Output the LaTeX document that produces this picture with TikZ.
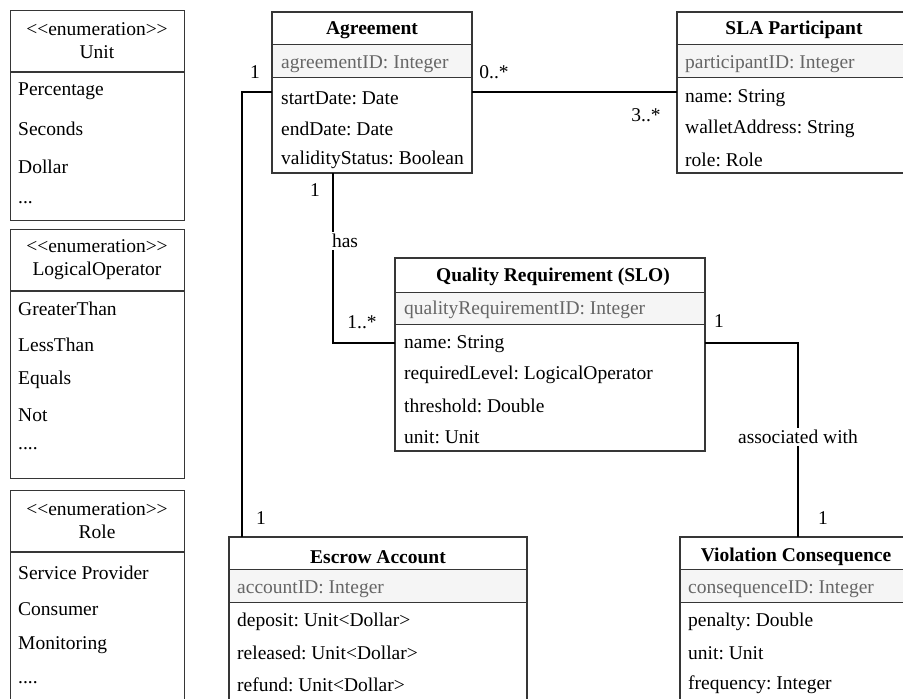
\documentclass[tikz,border=0pt]{standalone}
\usepackage{fontspec}
\setmainfont{Liberation Serif}
\begin{document}
\frenchspacing
\definecolor{boxline}{HTML}{363636}
\definecolor{idfill}{HTML}{F5F5F5}
\definecolor{idtext}{HTML}{666666}
\newcommand{\stereo}[1]{<\kern0pt<#1>\kern0pt>}
\begin{tikzpicture}[x=1pt,y=-1pt,
  font=\fontsize{19.5}{23}\selectfont,
  classbox/.style={draw=boxline, line width=1.1pt, rectangle, inner sep=0pt, anchor=north west},
  sepline/.style={draw=boxline, line width=1.1pt},
  idband/.style={fill=idfill, draw=boxline, line width=0.8pt},
  attr/.style={anchor=west, inner sep=0pt, text=black},
  idattr/.style={attr, text=idtext},
  ctitle/.style={inner sep=0pt, font=\fontsize{19.5}{23}\selectfont\bfseries},
  etitle/.style={inner sep=0pt, align=center},
  mult/.style={inner sep=0pt},
  onlabel/.style={fill=white, inner sep=2pt},
  assoc/.style={line width=2.6pt, black}]

\useasboundingbox (0,0) rectangle (903,699);

% ---------- enumerations ----------
\node[classbox, minimum width=174pt, minimum height=210pt] (unit) at (10,10) {};
\draw[sepline] (10,72) -- (184,72);
\node[etitle] (unith) at (97,41) {\stereo{enumeration}\\Unit};
\node[attr] (u1) at (18,91) {Percentage};
\node[attr] (u2) at (18,129) {Seconds};
\node[attr] (u3) at (18,167) {Dollar};
\node[attr] (u4) at (18,203) {...};

\node[classbox, minimum width=174pt, minimum height=249pt] (logop) at (10,229) {};
\draw[sepline] (10,291) -- (184,291);
\node[etitle] (logoph) at (97,260) {\stereo{enumeration}\\LogicalOperator};
\node[attr] (l1) at (18,309) {GreaterThan};
\node[attr] (l2) at (18,345) {LessThan};
\node[attr] (l3) at (18,380) {Equals};
\node[attr] (l4) at (18,415) {Not};
\node[attr] (l5) at (18,449) {....};

\node[classbox, minimum width=174pt, minimum height=230pt] (role) at (10,490) {};
\draw[sepline] (10,552) -- (184,552);
\node[etitle] (roleh) at (97,521) {\stereo{enumeration}\\Role};
\node[attr] (r1) at (18,573) {Service Provider};
\node[attr] (r2) at (18,609) {Consumer};
\node[attr] (r3) at (18,645) {Monitoring};
\node[attr] (r4) at (18,683) {....};

% ---------- Agreement ----------
\node[classbox, minimum width=200pt, minimum height=161pt] (agr) at (272,12) {};
\draw[idband] (272,44) rectangle (472,77);
\node[ctitle] (agrt) at (372,30) {Agreement};
\node[idattr] (agrid) at (281,64) {agreementID: Integer};
\node[attr] (agr1) at (281,98) {startDate: Date};
\node[attr] (agr2) at (281,129) {endDate: Date};
\node[attr] (agr3) at (281,160) {validityStatus: Boolean};
\draw[classbox] (272,12) rectangle (472,173);

% ---------- SLA Participant ----------
\node[classbox, minimum width=235pt, minimum height=161pt] (sla) at (677,12) {};
\draw[idband] (677,44) rectangle (912,77);
\node[ctitle] (slat) at (794,30) {SLA Participant};
\node[idattr] (slaid) at (685,64) {participantID: Integer};
\node[attr] (sla1) at (685,98) {name: String};
\node[attr] (sla2) at (685,129) {walletAddress: String};
\node[attr] (sla3) at (685,160) {role: Role};
\draw[classbox] (677,12) rectangle (912,173);

% ---------- Quality Requirement ----------
\node[classbox, minimum width=310pt, minimum height=193pt] (qr) at (395,258) {};
\draw[idband] (395,292) rectangle (705,324);
\node[ctitle] (qrt) at (553,277) {Quality Requirement (SLO)};
\node[idattr] (qrid) at (404,310) {qualityRequirementID: Integer};
\node[attr] (qr1) at (404,344) {name: String};
\node[attr] (qr2) at (404,375) {requiredLevel: LogicalOperator};
\node[attr] (qr3) at (404,406) {threshold: Double};
\node[attr] (qr4) at (404,437) {unit: Unit};
\draw[classbox] (395,258) rectangle (705,451);

% ---------- Escrow Account ----------
\node[classbox, minimum width=298pt, minimum height=180pt] (esc) at (229,537) {};
\draw[idband] (229,569) rectangle (527,602);
\node[ctitle] (esct) at (378,557) {Escrow Account};
\node[idattr] (escid) at (237,589) {accountID: Integer};
\node[attr] (esc1) at (237,622) {deposit: Unit<Dollar>};
\node[attr] (esc2) at (237,653) {released: Unit<Dollar>};
\node[attr] (esc3) at (237,685) {refund: Unit<Dollar>};
\draw[classbox] (229,537) rectangle (527,720);

% ---------- Violation Consequence ----------
\node[classbox, minimum width=232pt, minimum height=180pt] (vio) at (680,537) {};
\draw[idband] (680,569) rectangle (912,602);
\node[ctitle] (viot) at (796,557) {Violation Consequence};
\node[idattr] (vioid) at (688,589) {consequenceID: Integer};
\node[attr] (vio1) at (688,622) {penalty: Double};
\node[attr] (vio2) at (688,653) {unit: Unit};
\node[attr] (vio3) at (688,685) {frequency: Integer};
\draw[classbox] (680,537) rectangle (912,720);

% ---------- association ports ----------
\coordinate (agrE) at (472,92);
\coordinate (agrW) at (272,92);
\coordinate (agrS) at (333,173);
\coordinate (slaW) at (677,92);
\coordinate (escN) at (242,537);
\coordinate (qrW) at (395,343);
\coordinate (qrE) at (705,343);
\coordinate (vioN) at (798,537);

% ---------- associations ----------
\draw[assoc] (agrE) -- (slaW);
\draw[assoc] (agrW) -| (escN);
\draw[assoc] (agrS) |- (qrW);
\draw[assoc] (qrE) -| (vioN);

% ---------- multiplicities and labels ----------
\node[mult] (m1) at (494,72) {0..*};
\node[mult] (m2) at (646,115) {3..*};
\node[mult] (m3) at (255,72) {1};
\node[mult] (m4) at (261,518) {1};
\node[mult] (m5) at (315,190) {1};
\node[onlabel] (lhas) at (345,241) {has};
\node[mult] (m6) at (362,322) {1..*};
\node[mult] (m7) at (719,321) {1};
\node[onlabel] (lassoc) at (798,437) {associated with};
\node[mult] (m8) at (823,518) {1};
\end{tikzpicture}
\end{document}
